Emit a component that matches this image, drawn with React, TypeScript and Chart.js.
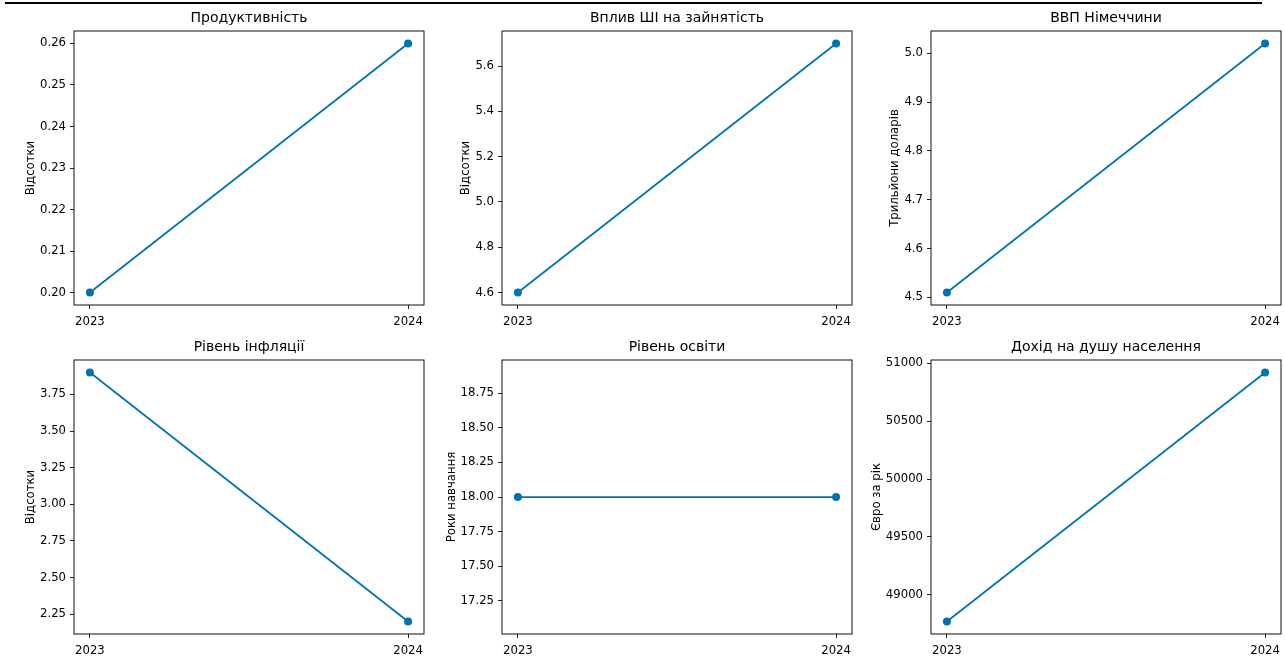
import React, { useEffect, useRef } from 'react';
import { Chart, registerables } from 'chart.js';

Chart.register(...registerables);

// ---------- data ----------
const years = [2023, 2024];
const yearLabels = ['2023', '2024'];

const productivity = [0.2, 0.26];
const aiEmployment = [4.6, 5.7];
const gdpGermany = [4.51, 5.02];
const inflation = [3.9, 2.2];
const education = [18, 18];
const incomePerCapita = [48770, 50920];

const productivityTicks = ['0.20', '0.21', '0.22', '0.23', '0.24', '0.25', '0.26'];
const aiEmploymentTicks = ['4.6', '4.8', '5.0', '5.2', '5.4', '5.6'];
const gdpTicks = ['4.5', '4.6', '4.7', '4.8', '4.9', '5.0'];
const inflationTicks = ['2.25', '2.50', '2.75', '3.00', '3.25', '3.50', '3.75'];
const educationTicks = ['17.25', '17.50', '17.75', '18.00', '18.25', '18.50', '18.75'];
const incomeTicks = ['49000', '49500', '50000', '50500', '51000'];

const titles = [
  'Продуктивність',
  'Вплив ШІ на зайнятість',
  'ВВП Німеччини',
  'Рівень інфляції',
  'Рівень освіти',
  'Дохід на душу населення',
];
const yAxisLabels = [
  'Відсотки',
  'Відсотки',
  'Трильйони доларів',
  'Відсотки',
  'Роки навчання',
  'Євро за рік',
];

// ---------- layout / style ----------
const LINE_COLOR = '#0072B2';
const FONT_FAMILY = '"DejaVu Sans", "Liberation Sans", sans-serif';
const TICK_FONT_SIZE = 11.7;
const TITLE_FONT_SIZE = 14;
const COL_LEFT = [74, 502, 931];
const ROW_TOP = [31, 360];
const PLOT_W = 350;
const PLOT_H = 274;
const Y_AXIS_W = 72;
const X_AXIS_H = 30;
const PAD_TOP = 31;
const PAD_RIGHT = 12;
const TICK_LEN = 4;
const TICK_PAD = 4;
const X_TICK_PAD = 6;
const LABEL_PAD = 4.7;

Chart.defaults.font.family = FONT_FAMILY;

type Spec = {
  title: string;
  yLabel: string;
  values: number[];
  ticks: string[];
  col: number;
  row: number;
};

const specs: Spec[] = [
  { title: titles[0], yLabel: yAxisLabels[0], values: productivity, ticks: productivityTicks, col: 0, row: 0 },
  { title: titles[1], yLabel: yAxisLabels[1], values: aiEmployment, ticks: aiEmploymentTicks, col: 1, row: 0 },
  { title: titles[2], yLabel: yAxisLabels[2], values: gdpGermany, ticks: gdpTicks, col: 2, row: 0 },
  { title: titles[3], yLabel: yAxisLabels[3], values: inflation, ticks: inflationTicks, col: 0, row: 1 },
  { title: titles[4], yLabel: yAxisLabels[4], values: education, ticks: educationTicks, col: 1, row: 1 },
  { title: titles[5], yLabel: yAxisLabels[5], values: incomePerCapita, ticks: incomeTicks, col: 2, row: 1 },
];

function dataLimits(vals: number[]): [number, number] {
  let lo = Math.min(...vals);
  let hi = Math.max(...vals);
  if (lo === hi) {
    const e = 0.05 * Math.abs(lo) || 0.05;
    lo -= e;
    hi += e;
  }
  const m = (hi - lo) * 0.05;
  return [lo - m, hi + m];
}

function Panel({ spec }: { spec: Spec }) {
  const ref = useRef<HTMLCanvasElement>(null);
  const left = COL_LEFT[spec.col] - Y_AXIS_W;
  const top = ROW_TOP[spec.row] - PAD_TOP;
  const width = Y_AXIS_W + PLOT_W + PAD_RIGHT;
  const height = PAD_TOP + PLOT_H + X_AXIS_H;

  useEffect(() => {
    const [ymin, ymax] = dataLimits(spec.values);
    const [xmin, xmax] = dataLimits(years);
    const yTickValues = spec.ticks.map((t) => Number(t));
    const tickFont = `${TICK_FONT_SIZE}px ${FONT_FAMILY}`;

    const mplText = {
      id: 'mplText',
      afterDraw(chart: any) {
        const { ctx, chartArea: a } = chart;
        ctx.save();
        ctx.strokeStyle = '#111';
        ctx.lineWidth = 1;
        ctx.strokeRect(a.left, a.top, a.right - a.left, a.bottom - a.top);
        ctx.fillStyle = '#000';
        ctx.font = `${TITLE_FONT_SIZE}px ${FONT_FAMILY}`;
        ctx.textAlign = 'center';
        ctx.textBaseline = 'alphabetic';
        ctx.fillText(spec.title, (a.left + a.right) / 2, a.top - 9);
        ctx.font = tickFont;
        const maxW = Math.max(...spec.ticks.map((t) => ctx.measureText(t).width));
        const x = a.left - TICK_LEN - TICK_PAD - maxW - LABEL_PAD + 1.5;
        ctx.translate(x, (a.top + a.bottom) / 2);
        ctx.rotate(-Math.PI / 2);
        ctx.textAlign = 'center';
        ctx.textBaseline = 'bottom';
        ctx.fillText(spec.yLabel, 0, 0);
        ctx.restore();
      },
    };

    const chart = new Chart(ref.current as HTMLCanvasElement, {
      type: 'line',
      data: {
        datasets: [
          {
            data: years.map((x, i) => ({ x, y: spec.values[i] })),
            borderColor: LINE_COLOR,
            backgroundColor: LINE_COLOR,
            borderWidth: 1.75,
            pointRadius: 4,
            pointHoverRadius: 4,
            pointBorderWidth: 0,
            pointBackgroundColor: LINE_COLOR,
            tension: 0,
            fill: false,
            clip: false as any,
          },
        ],
      },
      options: {
        animation: false,
        responsive: false,
        maintainAspectRatio: false,
        events: [],
        layout: { padding: { top: PAD_TOP, right: PAD_RIGHT, left: 0, bottom: 0 } },
        plugins: {
          legend: { display: false },
          title: { display: false },
          tooltip: { enabled: false },
        },
        scales: {
          x: {
            type: 'linear',
            min: xmin,
            max: xmax,
            bounds: 'data',
            afterFit: (s: any) => {
              s.height = X_AXIS_H;
            },
            afterBuildTicks: (s: any) => {
              s.ticks = years.map((v) => ({ value: v }));
            },
            ticks: {
              autoSkip: false,
              maxRotation: 0,
              color: '#000',
              padding: X_TICK_PAD,
              font: { size: TICK_FONT_SIZE, family: FONT_FAMILY },
              callback: (_v: any, i: number) => yearLabels[i],
            },
            grid: {
              display: true,
              drawOnChartArea: false,
              drawTicks: true,
              tickLength: TICK_LEN,
              color: '#222',
              lineWidth: 1,
            },
            border: { display: false },
          },
          y: {
            type: 'linear',
            min: ymin,
            max: ymax,
            bounds: 'data',
            afterFit: (s: any) => {
              s.width = Y_AXIS_W;
            },
            afterBuildTicks: (s: any) => {
              s.ticks = yTickValues.map((v) => ({ value: v }));
            },
            ticks: {
              autoSkip: false,
              color: '#000',
              padding: TICK_PAD,
              font: { size: TICK_FONT_SIZE, family: FONT_FAMILY },
              callback: (_v: any, i: number) => spec.ticks[i],
            },
            grid: {
              display: true,
              drawOnChartArea: false,
              drawTicks: true,
              tickLength: TICK_LEN,
              color: '#222',
              lineWidth: 1,
            },
            border: { display: false },
          },
        },
      },
      plugins: [mplText],
    } as any);
    return () => chart.destroy();
  }, [spec]);

  return (
    <canvas
      ref={ref}
      width={width}
      height={height}
      style={{ position: 'absolute', left, top, width, height }}
    />
  );
}

export default function App() {
  return (
    <div
      style={{
        position: 'absolute',
        left: 0,
        top: 0,
        width: 1285,
        height: 668,
        background: '#fff',
        overflow: 'hidden',
      }}
    >
      <div style={{ position: 'absolute', left: 5, top: 2, width: 1257, height: 2, background: '#000' }} />
      {specs.map((s, i) => (
        <Panel key={i} spec={s} />
      ))}
    </div>
  );
}
